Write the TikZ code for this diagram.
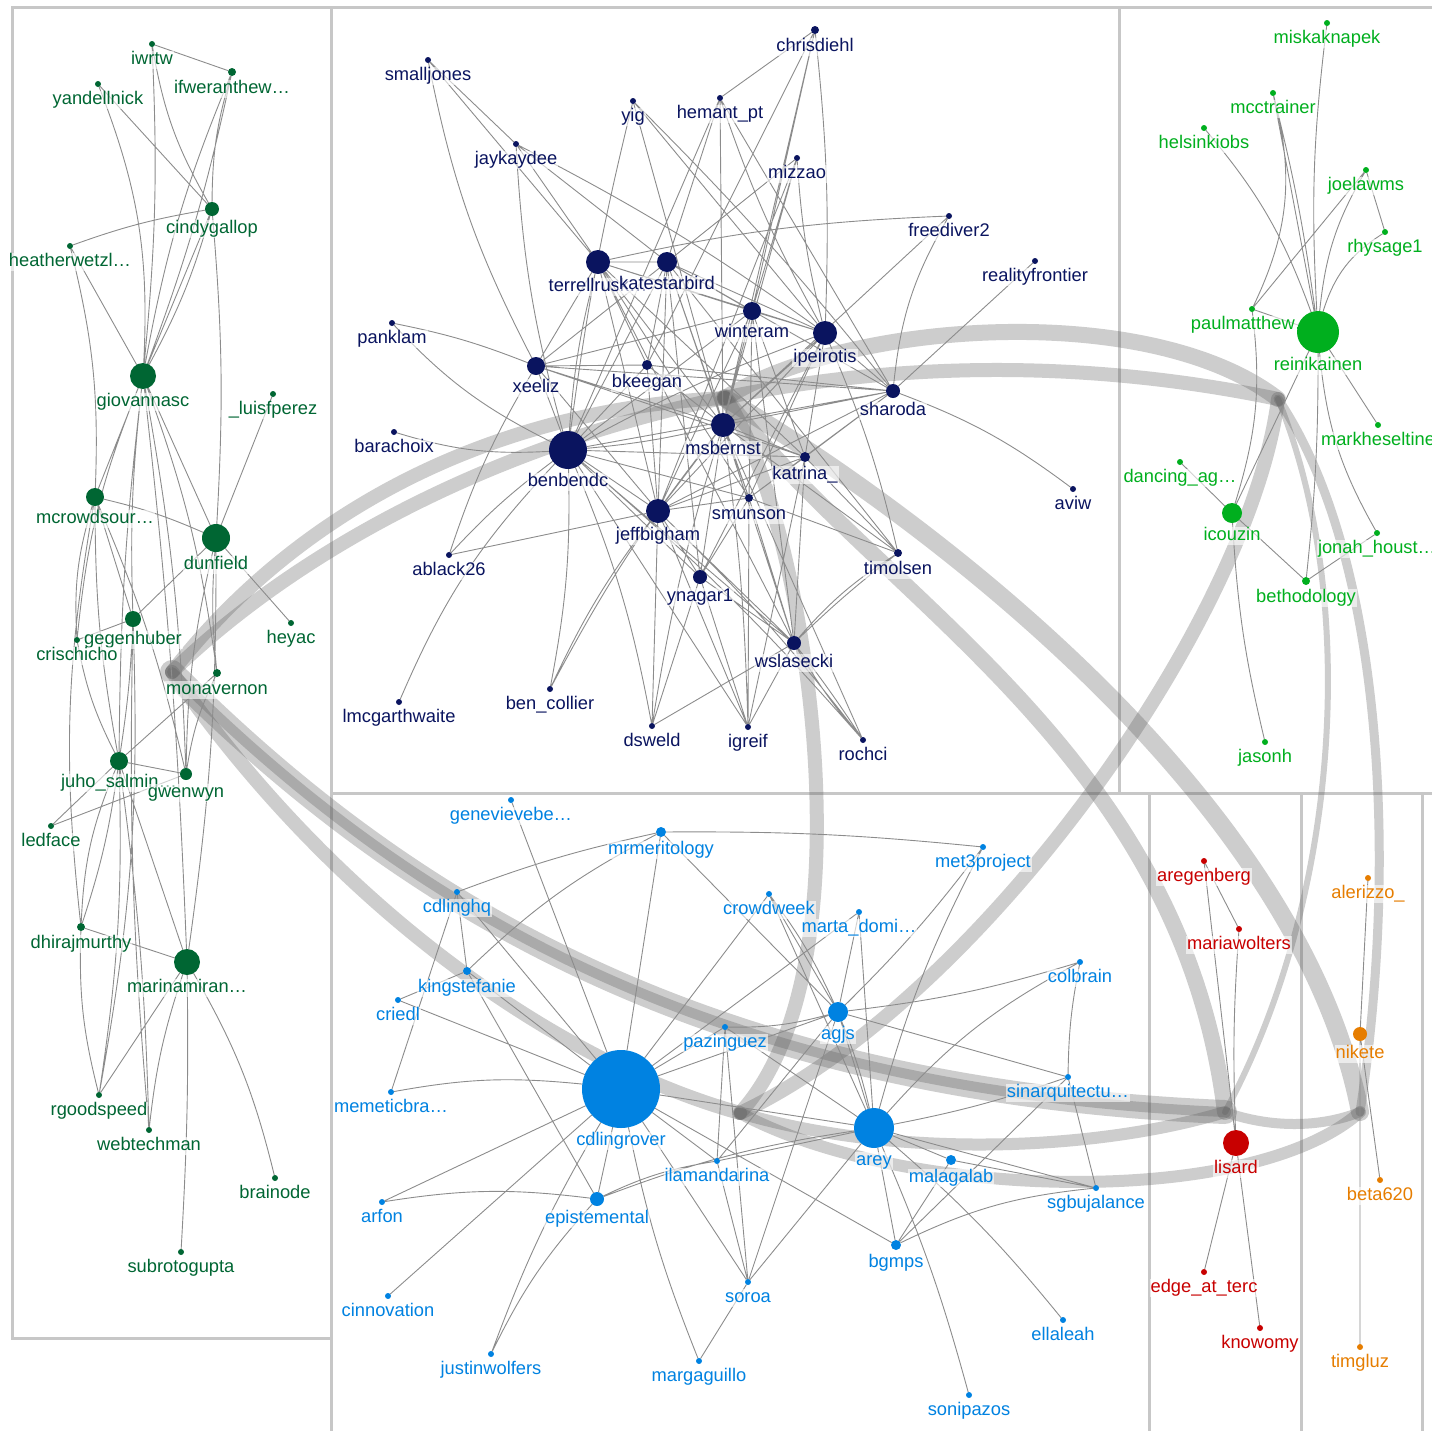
\documentclass[tikz,border=0pt]{standalone}
\usepackage{fontspec}
\setmainfont{Liberation Sans}
\pgfdeclarelayer{bands}
\pgfdeclarelayer{ties}
\pgfsetlayers{bands,ties,main}

\definecolor{pine}{RGB}{0,102,51}
\definecolor{ink}{RGB}{10,20,95}
\definecolor{sprout}{RGB}{0,175,30}
\definecolor{sky}{RGB}{0,130,225}
\definecolor{brick}{RGB}{200,0,0}
\definecolor{amber}{RGB}{230,125,0}

\tikzset{
  dot/.style={circle, inner sep=0pt, outer sep=0pt},
  lab/.style={inner sep=1pt, fill=white, fill opacity=0.6, text opacity=1,
    font=\fontsize{18.3}{21}\selectfont, text height=13pt, text depth=3.8pt},
  tie/.style={draw=black!45, line width=0.9pt},
  band/.style={draw=black!65, draw opacity=0.3, line cap=round},
  panel/.style={draw=black!22, line width=3pt}
}
% one account: name, x, y, radius, colour, text
\newcommand{\acct}[6]{%
  \node[dot, fill=#5, minimum size={2*#4}] (#1) at (#2,#3) {};
  \node[lab, text=#5] (#1-t) at (#2,#3+#4+13) {#6};}

\begin{document}
\begin{tikzpicture}[x=1pt, y=-1pt]
		%%%%% START %%%%%
		\useasboundingbox (0,0) rectangle (1432,1430);
		
		%%%%% left cluster %%%%%
		\acct{iwrtw}{152}{44}{3}{pine}{iwrtw}
		\acct{ifwer}{232}{72}{4}{pine}{ifweranthew…}
		\acct{yandell}{98}{84}{3}{pine}{yandellnick}
		\acct{cindy}{212}{209}{7}{pine}{cindygallop}
		\acct{heather}{70}{246}{3}{pine}{heatherwetzl…}
		\acct{giovanna}{143}{376}{13}{pine}{giovannasc}
		\acct{luis}{273}{394}{3}{pine}{\_luisfperez}
		\acct{mcrowd}{95}{497}{9}{pine}{mcrowdsour…}
		\acct{dunfield}{216}{538}{14}{pine}{dunfield}
		\acct{gegen}{133}{619}{8}{pine}{gegenhuber}
		\acct{crischicho}{77}{640}{3}{pine}{crischicho}
		\acct{heyac}{291}{623}{3}{pine}{heyac}
		\acct{monavernon}{217}{673}{4}{pine}{monavernon}
		\acct{juho}{119}{761}{9}{pine}{juho\_salmin…}
		\acct{gwenwyn}{186}{774}{6}{pine}{gwenwyn}
		\acct{ledface}{51}{826}{3}{pine}{ledface}
		\acct{dhiraj}{81}{927}{4}{pine}{dhirajmurthy}
		\acct{marina}{187}{962}{13}{pine}{marinamiran…}
		\acct{rgood}{99}{1095}{3}{pine}{rgoodspeed}
		\acct{webtech}{149}{1130}{3}{pine}{webtechman}
		\acct{brainode}{275}{1178}{3}{pine}{brainode}
		\acct{subroto}{181}{1252}{3}{pine}{subrotogupta}
		
		%%%%% top middle cluster %%%%%
		\acct{smalljones}{428}{60}{3}{ink}{smalljones}
		\acct{chrisdiehl}{815}{30}{4}{ink}{chrisdiehl}
		\acct{yig}{633}{101}{3}{ink}{yig}
		\acct{hemant}{720}{98}{3}{ink}{hemant\_pt}
		\acct{jaykaydee}{516}{144}{3}{ink}{jaykaydee}
		\acct{mizzao}{797}{158}{3}{ink}{mizzao}
		\acct{freediver}{949}{216}{3}{ink}{freediver2}
		\acct{reality}{1035}{261}{3}{ink}{realityfrontier}
		\acct{terrell}{598}{262}{12}{ink}{terrellrusk…}
		\acct{kate}{667}{262}{10}{ink}{katestarbird}
		\acct{winteram}{752}{311}{9}{ink}{winteram}
		\acct{ipeirotis}{825}{333}{12}{ink}{ipeirotis}
		\acct{panklam}{392}{323}{3}{ink}{panklam}
		\acct{xeeliz}{536}{366}{9}{ink}{xeeliz}
		\acct{bkeegan}{647}{365}{5}{ink}{bkeegan}
		\acct{sharoda}{893}{391}{7}{ink}{sharoda}
		\acct{barachoix}{394}{432}{3}{ink}{barachoix}
		\acct{benbendc}{568}{450}{19}{ink}{benbendc}
		\acct{msbernst}{723}{425}{12}{ink}{msbernst}
		\acct{katrina}{805}{457}{5}{ink}{katrina\_}
		\acct{aviw}{1073}{489}{3}{ink}{aviw}
		\acct{smunson}{749}{498}{4}{ink}{smunson}
		\acct{jeffbigham}{658}{511}{12}{ink}{jeffbigham}
		\acct{ablack}{449}{555}{3}{ink}{ablack26}
		\acct{timolsen}{898}{553}{4}{ink}{timolsen}
		\acct{ynagar}{700}{577}{7}{ink}{ynagar1}
		\acct{wslasecki}{794}{643}{7}{ink}{wslasecki}
		\acct{lmcg}{399}{702}{3}{ink}{lmcgarthwaite}
		\acct{bencollier}{550}{689}{3}{ink}{ben\_collier}
		\acct{dsweld}{652}{726}{3}{ink}{dsweld}
		\acct{igreif}{748}{727}{3}{ink}{igreif}
		\acct{rochci}{863}{740}{3}{ink}{rochci}
		
		%%%%% top right cluster %%%%%
		\acct{miska}{1327}{23}{3}{sprout}{miskaknapek}
		\acct{mcctrainer}{1273}{93}{3}{sprout}{mcctrainer}
		\acct{helsinki}{1204}{128}{3}{sprout}{helsinkiobs}
		\acct{joelawms}{1366}{170}{3}{sprout}{joelawms}
		\acct{rhysage}{1385}{232}{3}{sprout}{rhysage1}
		\acct{paulm}{1252}{309}{3}{sprout}{paulmatthew…}
		\acct{reini}{1318}{332}{21}{sprout}{reinikainen}
		\acct{markh}{1378}{425}{3}{sprout}{markheseltine}
		\acct{dancing}{1180}{462}{3}{sprout}{dancing\_ag…}
		\acct{icouzin}{1232}{513}{10}{sprout}{icouzin}
		\acct{jonah}{1377}{533}{3}{sprout}{jonah\_houst…}
		\acct{betho}{1306}{581}{4}{sprout}{bethodology}
		\acct{jasonh}{1265}{742}{3}{sprout}{jasonh}
		
		%%%%% bottom cluster %%%%%
		\acct{genevieve}{511}{800}{3}{sky}{genevievebe…}
		\acct{mrmerit}{661}{832}{5}{sky}{mrmeritology}
		\acct{met3}{983}{847}{3}{sky}{met3project}
		\acct{cdlinghq}{457}{892}{3}{sky}{cdlinghq}
		\acct{crowdweek}{769}{894}{3}{sky}{crowdweek}
		\acct{marta}{859}{912}{3}{sky}{marta\_domi…}
		\acct{kingstef}{467}{971}{4}{sky}{kingstefanie}
		\acct{colbrain}{1080}{962}{3}{sky}{colbrain}
		\acct{criedl}{398}{1000}{3}{sky}{criedl}
		\acct{agjs}{838}{1012}{10}{sky}{agjs}
		\acct{pazinguez}{725}{1027}{3}{sky}{pazinguez}
		\acct{memetic}{391}{1092}{3}{sky}{memeticbra…}
		\acct{cdlingrover}{621}{1089}{39}{sky}{cdlingrover}
		\acct{sinarq}{1068}{1077}{3}{sky}{sinarquitectu…}
		\acct{arey}{874}{1128}{20}{sky}{arey}
		\acct{ilaman}{717}{1161}{3}{sky}{ilamandarina}
		\acct{malaga}{951}{1160}{5}{sky}{malagalab}
		\acct{sgbu}{1096}{1188}{3}{sky}{sgbujalance}
		\acct{arfon}{382}{1202}{3}{sky}{arfon}
		\acct{episte}{597}{1199}{7}{sky}{epistemental}
		\acct{bgmps}{896}{1245}{5}{sky}{bgmps}
		\acct{cinnov}{388}{1296}{3}{sky}{cinnovation}
		\acct{soroa}{748}{1282}{3}{sky}{soroa}
		\acct{ellaleah}{1063}{1320}{3}{sky}{ellaleah}
		\acct{justinw}{491}{1354}{3}{sky}{justinwolfers}
		\acct{margag}{699}{1361}{3}{sky}{margaguillo}
		\acct{sonipazos}{969}{1395}{3}{sky}{sonipazos}
		
		%%%%% red and orange clusters %%%%%
		\acct{aregen}{1204}{861}{3}{brick}{aregenberg}
		\acct{mariaw}{1239}{929}{3}{brick}{mariawolters}
		\acct{lisard}{1236}{1143}{13}{brick}{lisard}
		\acct{edgeterc}{1204}{1272}{3}{brick}{edge\_at\_terc}
		\acct{knowomy}{1260}{1328}{3}{brick}{knowomy}
		\acct{alerizzo}{1368}{878}{3}{amber}{alerizzo\_}
		\acct{nikete}{1360}{1034}{7}{amber}{nikete}
		\acct{beta}{1380}{1180}{3}{amber}{beta620}
		\acct{timgluz}{1360}{1347}{3}{amber}{timgluz}
		
		%%%%% cluster hubs %%%%%
		\coordinate (hubL) at (172,672);
		\coordinate (hubT) at (725,398);
		\coordinate (hubR) at (1278,399);
		\coordinate (hubB) at (740,1113);
		\coordinate (hubRed) at (1225,1112);
		\coordinate (hubOra) at (1360,1112);
		
		\begin{pgfonlayer}{bands}
		\draw[panel] (12,7) rectangle (331,1338);
		\draw[panel] (331,7) -- (1440,7);
		\draw[panel] (331,7) -- (331,1440);
		\draw[panel] (331,793) -- (1440,793);
		\draw[panel] (1119,7) -- (1119,793);
		\draw[panel] (1149,793) -- (1149,1440);
		\draw[panel] (1301,793) -- (1301,1440);
		\draw[panel] (1422,793) -- (1422,1440);
		
		\draw[band, line width=14pt] (hubL) .. controls (290,520) and (480,410) .. (hubT);
		\draw[band, line width=14pt] (hubL) .. controls (380,470) and (800,300) .. (hubR);
		\draw[band, line width=16pt] (hubT) .. controls (850,320) and (1150,300) .. (hubR);
		\draw[band, line width=16pt] (hubT) .. controls (880,600) and (1180,750) .. (hubRed);
		\draw[band, line width=18pt] (hubT) .. controls (930,520) and (1300,800) .. (hubOra);
		\draw[band, line width=14pt] (hubT) .. controls (800,500) and (880,960) .. (hubB);
		\draw[band, line width=14pt] (hubR) .. controls (1250,620) and (980,1000) .. (hubB);
		\draw[band, line width=6pt] (hubR) .. controls (1360,600) and (1340,900) .. (hubRed);
		\draw[band, line width=9pt] (hubR) .. controls (1380,550) and (1400,850) .. (hubOra);
		\draw[band, line width=14pt] (hubL) .. controls (330,900) and (550,1060) .. (hubB);
		\draw[band, line width=24pt] (hubL) .. controls (400,900) and (700,1090) .. (hubRed);
		\draw[band, line width=10pt] (hubL) .. controls (400,900) and (700,1090) .. (hubRed)
		  .. controls (1270,1128) and (1320,1128) .. (hubOra);
		\draw[band, line width=12pt] (hubB) .. controls (900,1160) and (1100,1150) .. (hubRed);
		\draw[band, line width=12pt] (hubB) .. controls (900,1200) and (1250,1210) .. (hubOra);
		\end{pgfonlayer}
		
		\begin{pgfonlayer}{ties}
		% left cluster
		\draw[tie] (iwrtw) -- (ifwer) (iwrtw) to[bend left=4] (giovanna) (iwrtw) to[bend right=10] (cindy)
		  (yandell) to[bend left=12] (giovanna) (yandell) -- (cindy)
		  (ifwer) to[bend right=6] (giovanna) (ifwer) to[bend left=4] (giovanna) (ifwer) to[bend right=8] (cindy)
		  (heather) to[bend left=5] (cindy) (heather) -- (giovanna) (heather) to[bend left=8] (mcrowd)
		  (cindy) -- (giovanna) (cindy) to[bend left=6] (giovanna) (cindy) to[bend left=4] (dunfield)
		  (giovanna) -- (mcrowd) (giovanna) -- (dunfield) (giovanna) to[bend right=4] (gegen)
		  (giovanna) to[bend right=8] (crischicho) (giovanna) to[bend right=3] (juho)
		  (giovanna) to[bend left=6] (monavernon) (giovanna) to[bend left=4] (gwenwyn) (giovanna) to[bend left=2] (marina)
		  (luis) -- (dunfield)
		  (mcrowd) to[bend left=5] (dunfield) (mcrowd) to[bend right=10] (crischicho) (mcrowd) -- (gegen)
		  (mcrowd) to[bend right=5] (juho) (mcrowd) to[bend left=5] (gwenwyn) (mcrowd) to[bend right=8] (dhiraj)
		  (dunfield) -- (heyac) (dunfield) -- (gegen) (dunfield) to[bend right=5] (monavernon)
		  (dunfield) to[bend right=6] (gwenwyn) (dunfield) to[bend left=4] (marina)
		  (gegen) -- (crischicho) (gegen) to[bend left=3] (juho) (gegen) to[bend right=3] (webtech) (gegen) to[bend left=6] (rgood)
		  (crischicho) to[bend right=8] (juho)
		  (monavernon) -- (juho) (monavernon) to[bend right=8] (gwenwyn)
		  (juho) -- (gwenwyn) (juho) -- (ledface) (juho) to[bend right=10] (dhiraj) (juho) to[bend left=5] (dhiraj)
		  (juho) -- (marina) (juho) to[bend left=5] (rgood) (juho) to[bend left=3] (webtech)
		  (gwenwyn) -- (ledface)
		  (dhiraj) -- (marina) (dhiraj) to[bend right=8] (rgood)
		  (marina) -- (rgood) (marina) to[bend right=6] (webtech) (marina) to[bend left=8] (brainode) (marina) to[bend left=2] (subroto);
		
		% top middle cluster
		\draw[tie] (smalljones) -- (jaykaydee) (smalljones) -- (terrell) (smalljones) to[bend right=8] (xeeliz)
		  (jaykaydee) -- (terrell) (jaykaydee) -- (kate) (jaykaydee) to[bend right=6] (benbendc) (jaykaydee) to[bend left=4] (ipeirotis)
		  (yig) to[bend right=3] (benbendc) (yig) -- (msbernst) (yig) -- (ipeirotis) (yig) to[bend left=3] (sharoda)
		  (hemant) -- (chrisdiehl) (hemant) -- (kate) (hemant) -- (benbendc) (hemant) -- (msbernst)
		  (hemant) to[bend right=5] (ipeirotis) (hemant) -- (sharoda)
		  (chrisdiehl) -- (winteram) (chrisdiehl) -- (msbernst) (chrisdiehl) -- (bkeegan) (chrisdiehl) to[bend left=4] (ipeirotis)
		  (mizzao) -- (winteram) (mizzao) -- (msbernst) (mizzao) to[bend right=5] (ipeirotis) (mizzao) -- (kate) (mizzao) -- (jeffbigham)
		  (freediver) to[bend right=5] (terrell) (freediver) -- (msbernst) (freediver) to[bend right=12] (sharoda)
		  (reality) -- (sharoda) (sharoda) to[bend left=8] (aviw)
		  (panklam) to[bend left=5] (xeeliz) (panklam) to[bend right=10] (benbendc) (barachoix) to[bend right=10] (benbendc)
		  (xeeliz) -- (terrell) (xeeliz) -- (kate) (xeeliz) -- (bkeegan) (xeeliz) -- (msbernst) (xeeliz) -- (winteram)
		  (xeeliz) to[bend right=6] (ablack) (xeeliz) -- (benbendc) (xeeliz) -- (sharoda) (xeeliz) -- (jeffbigham) (xeeliz) -- (katrina)
		  (terrell) -- (kate) (terrell) -- (bkeegan) (terrell) -- (msbernst) (terrell) -- (winteram) (terrell) -- (smunson)
		  (terrell) -- (jeffbigham) (terrell) -- (katrina) (terrell) -- (wslasecki) (terrell) to[bend right=5] (benbendc) (terrell) -- (ipeirotis)
		  (kate) -- (bkeegan) (kate) -- (winteram) (kate) -- (msbernst) (kate) -- (ipeirotis) (kate) -- (jeffbigham)
		  (kate) -- (ynagar) (kate) -- (smunson) (kate) -- (sharoda) (kate) -- (benbendc) (kate) -- (timolsen)
		  (winteram) -- (msbernst) (winteram) -- (ipeirotis) (winteram) -- (jeffbigham) (winteram) -- (smunson)
		  (winteram) -- (katrina) (winteram) -- (benbendc) (winteram) -- (wslasecki)
		  (ipeirotis) -- (msbernst) (ipeirotis) -- (sharoda) (ipeirotis) -- (katrina) (ipeirotis) -- (jeffbigham)
		  (ipeirotis) -- (smunson) (ipeirotis) to[bend left=5] (timolsen) (ipeirotis) to[bend right=4] (benbendc) (ipeirotis) -- (ynagar)
		  (bkeegan) -- (msbernst) (bkeegan) -- (benbendc) (bkeegan) -- (jeffbigham) (bkeegan) -- (sharoda)
		  (msbernst) -- (sharoda) (msbernst) -- (katrina) (msbernst) -- (smunson) (msbernst) -- (jeffbigham) (msbernst) -- (ynagar)
		  (msbernst) -- (wslasecki) (msbernst) -- (timolsen) (msbernst) to[bend left=3] (igreif) (msbernst) to[bend right=4] (dsweld)
		  (msbernst) -- (rochci) (msbernst) to[bend left=4] (benbendc) (msbernst) to[bend right=5] (bencollier)
		  (benbendc) to[bend right=5] (ablack) (benbendc) to[bend right=10] (lmcg) (benbendc) to[bend left=6] (bencollier)
		  (benbendc) to[bend left=6] (dsweld) (benbendc) -- (jeffbigham) (benbendc) -- (ynagar) (benbendc) -- (smunson)
		  (benbendc) -- (katrina) (benbendc) -- (sharoda) (benbendc) -- (wslasecki) (benbendc) -- (igreif) (benbendc) to[bend left=4] (rochci)
		  (jeffbigham) -- (ablack) (jeffbigham) to[bend right=6] (bencollier) (jeffbigham) -- (dsweld) (jeffbigham) -- (igreif)
		  (jeffbigham) -- (ynagar) (jeffbigham) -- (smunson) (jeffbigham) -- (wslasecki) (jeffbigham) -- (katrina)
		  (jeffbigham) -- (sharoda) (jeffbigham) to[bend left=4] (rochci)
		  (sharoda) -- (smunson) (sharoda) -- (katrina)
		  (katrina) -- (smunson) (katrina) -- (timolsen) (katrina) -- (igreif) (katrina) -- (wslasecki)
		  (smunson) -- (ynagar) (smunson) -- (igreif) (smunson) -- (wslasecki) (smunson) -- (timolsen)
		  (ynagar) -- (dsweld) (ynagar) -- (igreif) (ynagar) -- (wslasecki)
		  (wslasecki) to[bend left=8] (timolsen) (wslasecki) to[bend left=3] (timolsen)
		  (wslasecki) to[bend right=5] (rochci) (wslasecki) to[bend left=2] (rochci)
		  (wslasecki) -- (igreif) (wslasecki) -- (dsweld);
		
		% top right cluster
		\draw[tie] (miska) to[bend right=5] (reini) (mcctrainer) to[bend left=3] (reini) (mcctrainer) -- (reini)
		  (mcctrainer) to[bend left=20] (paulm) (helsinki) to[bend left=10] (reini)
		  (joelawms) -- (rhysage) (joelawms) to[bend right=12] (reini) (joelawms) -- (paulm)
		  (rhysage) to[bend right=20] (reini) (paulm) -- (reini) (paulm) to[bend left=12] (icouzin)
		  (reini) -- (icouzin) (reini) -- (markh) (reini) to[bend right=12] (jonah) (reini) to[bend left=3] (betho)
		  (dancing) -- (icouzin) (icouzin) -- (betho) (icouzin) to[bend right=5] (jasonh) (jonah) -- (betho);
		
		% bottom cluster
		\draw[tie] (genevieve) -- (cdlingrover)
		  (mrmerit) to[bend right=4] (cdlinghq) (mrmerit) to[bend right=8] (kingstef) (mrmerit) to[bend left=3] (met3)
		  (mrmerit) -- (cdlingrover) (mrmerit) -- (agjs)
		  (cdlinghq) -- (kingstef) (cdlinghq) -- (memetic) (cdlinghq) -- (cdlingrover)
		  (kingstef) -- (criedl) (kingstef) -- (episte) (kingstef) -- (cdlingrover)
		  (criedl) -- (cdlingrover) (memetic) to[bend left=8] (cdlingrover)
		  (arfon) -- (cdlingrover) (arfon) to[bend left=8] (episte)
		  (cinnov) -- (cdlingrover)
		  (justinw) to[bend left=8] (episte) (justinw) to[bend left=5] (cdlingrover)
		  (margag) to[bend left=5] (cdlingrover) (margag) -- (soroa)
		  (episte) -- (cdlingrover) (episte) to[bend left=8] (ilaman) (episte) to[bend left=6] (arey)
		  (cdlingrover) -- (crowdweek) (cdlingrover) -- (agjs) (cdlingrover) -- (arey) (cdlingrover) -- (pazinguez)
		  (cdlingrover) -- (ilaman) (cdlingrover) -- (soroa) (cdlingrover) -- (bgmps) (cdlingrover) -- (marta)
		  (crowdweek) -- (agjs) (crowdweek) to[bend left=6] (agjs) (crowdweek) -- (arey)
		  (marta) -- (agjs) (marta) -- (arey)
		  (met3) to[bend left=4] (agjs) (met3) to[bend right=6] (arey)
		  (colbrain) to[bend left=5] (agjs) (colbrain) to[bend right=10] (arey) (colbrain) to[bend right=5] (sinarq)
		  (agjs) to[bend left=8] (pazinguez) (agjs) -- (arey) (agjs) to[bend left=4] (arey) (agjs) -- (sinarq)
		  (agjs) -- (ilaman) (agjs) -- (soroa)
		  (pazinguez) -- (arey) (pazinguez) -- (ilaman) (pazinguez) -- (soroa)
		  (sinarq) to[bend left=4] (arey) (sinarq) -- (sgbu) (sinarq) -- (bgmps)
		  (arey) -- (malaga) (arey) -- (sgbu) (arey) -- (bgmps) (arey) to[bend left=5] (ellaleah) (arey) to[bend left=4] (sonipazos)
		  (arey) -- (soroa) (arey) -- (ilaman)
		  (malaga) -- (bgmps) (malaga) -- (sgbu) (bgmps) to[bend left=10] (sgbu) (soroa) -- (ilaman);
		
		% red and orange clusters
		\draw[tie] (aregen) -- (mariaw) (aregen) -- (lisard) (mariaw) to[bend right=3] (lisard)
		  (lisard) -- (edgeterc) (lisard) -- (knowomy)
		  (alerizzo) -- (nikete) (nikete) -- (beta) (nikete) -- (timgluz);
		\end{pgfonlayer}
		
		%%%%% END %%%%%
	\end{tikzpicture}
\end{document}
